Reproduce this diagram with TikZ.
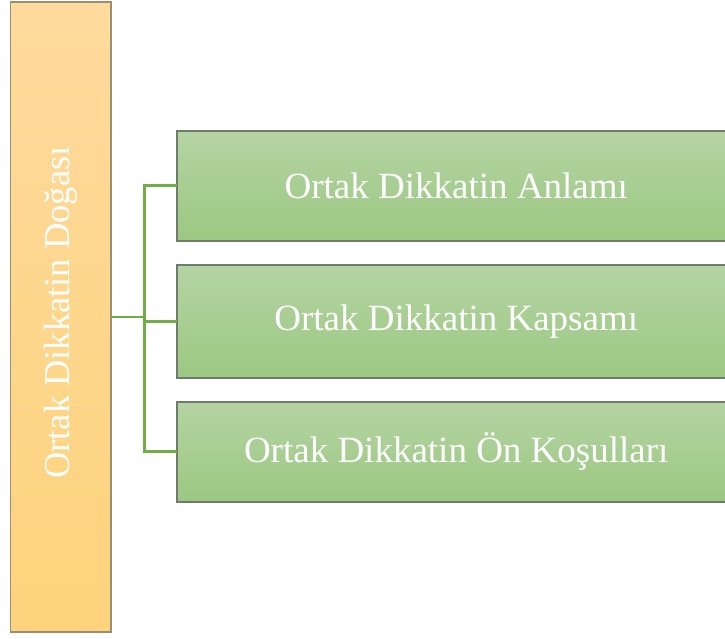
\documentclass[tikz,border=0pt]{standalone}
\usepackage{fontspec}
\setmainfont{Liberation Serif}
\definecolor{rootTop}{HTML}{FEDA9D}
\definecolor{rootBot}{HTML}{FED37C}
\definecolor{rootEdge}{HTML}{9A8E74}
\definecolor{leafTop}{HTML}{B4D4A3}
\definecolor{leafBot}{HTML}{9CC882}
\definecolor{leafEdge}{HTML}{6F7B6B}
\definecolor{connGreen}{HTML}{70AD47}
\tikzset{
  rootbox/.style={draw=rootEdge, line width=1.8pt, top color=rootTop, bottom color=rootBot,
    minimum width=100.5pt, minimum height=630pt, inner sep=0pt, outer sep=0pt},
  leafbox/.style={draw=leafEdge, line width=1.8pt, top color=leafTop, bottom color=leafBot,
    minimum width=559pt, inner sep=0pt, outer sep=0pt, anchor=west,
    text=white, font=\fontsize{37}{44}\selectfont},
  roottext/.style={text=white, rotate=90, font=\fontsize{36.5}{44}\selectfont, inner sep=0pt},
  conn/.style={draw=connGreen, line width=2.5pt}
}
\begin{document}
\begin{tikzpicture}[x=1pt,y=-1pt]
\useasboundingbox (0,0) rectangle (725,639);
\clip (0,0) rectangle (725,639);
\node[rootbox] (root) at (60.75,316.75) {};
\node[roottext] (rootlabel) at (61,312.5) {Ortak Dikkatin Doğası};
\node[leafbox, minimum height=110pt] (b1) at (176.7,185.7) {Ortak Dikkatin Anlamı};
\node[leafbox, minimum height=112.7pt] (b2) at (176.7,321.4) {Ortak Dikkatin Kapsamı};
\node[leafbox, minimum height=100pt] (b3) at (176.7,451.7) {Ortak Dikkatin Ön Koşulları};
\coordinate (jn) at (144.5,316.75);
\draw[conn] (root.east) -- (jn);
\draw[conn] (b1.west) -| (jn);
\draw[conn] (b2.west) -| (jn);
\draw[conn] (b3.west) -| (jn);
\end{tikzpicture}
\end{document}
